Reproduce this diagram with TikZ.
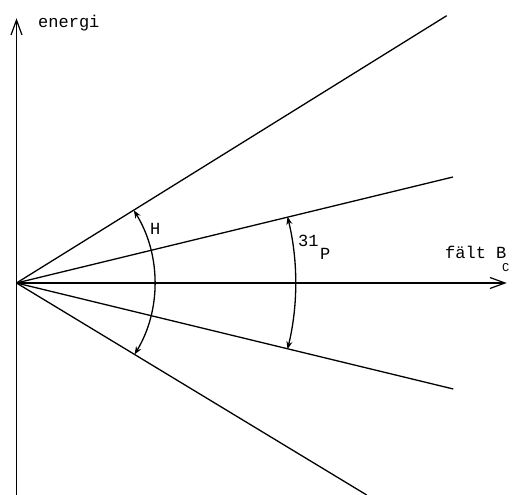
\documentclass[tikz,border=0pt]{standalone}
\usepackage{fontspec}
\setmonofont{Liberation Mono}
\usetikzlibrary{arrows.meta}
\begin{document}
\begin{tikzpicture}[x=1pt,y=1pt,
  ln/.style={line width=1.3pt},
  axarrow/.style={ln,-{Straight Barb[length=15pt,width=11pt,line width=1.2pt]}},
  arcarrow/.style={ln,{Stealth[length=8pt,width=6pt]}-{Stealth[length=8pt,width=6pt]}},
  lbl/.style={inner sep=0pt,anchor=base west,font=\ttfamily\fontsize{17}{17}\selectfont},
  sublbl/.style={inner sep=0pt,anchor=base west,font=\ttfamily\fontsize{12}{12}\selectfont}]
\useasboundingbox (0,0) rectangle (514,495);
% origin and end points
\coordinate (O) at (16.5,212);
\coordinate (vbot) at (16.5,0);
\coordinate (vtop) at (16.5,476.7);
\coordinate (htip) at (506.7,212);
\coordinate (us) at (446.7,479.3);
\coordinate (um) at (453,318);
\coordinate (lm) at (453.3,106);
\coordinate (ls) at (366.7,0);
% axes
\draw[axarrow] (vbot) -- (vtop);
\draw[axarrow] (O) -- (htip);
% rays
\draw[ln] (O) -- (us);
\draw[ln] (O) -- (um);
\draw[ln] (O) -- (lm);
\draw[ln] (O) -- (ls);
% arcs
\draw[arcarrow] ([shift={(-31.2:138pt)}]O) arc[start angle=-31.2,end angle=31.8,radius=138pt];
\draw[arcarrow] ([shift={(-13.75:279pt)}]O) arc[start angle=-13.75,end angle=13.75,radius=279pt];
% labels
\node[lbl] (energi) at (38,467) {energi};
\node[lbl] (falt) at (445,236) {fält B};
\node[sublbl] (c) at (502,223) {C};
\node[lbl] (h) at (150,260) {H};
\node[lbl] (n31) at (298,248) {31};
\node[lbl] (p) at (320,235) {P};
\end{tikzpicture}
\end{document}
